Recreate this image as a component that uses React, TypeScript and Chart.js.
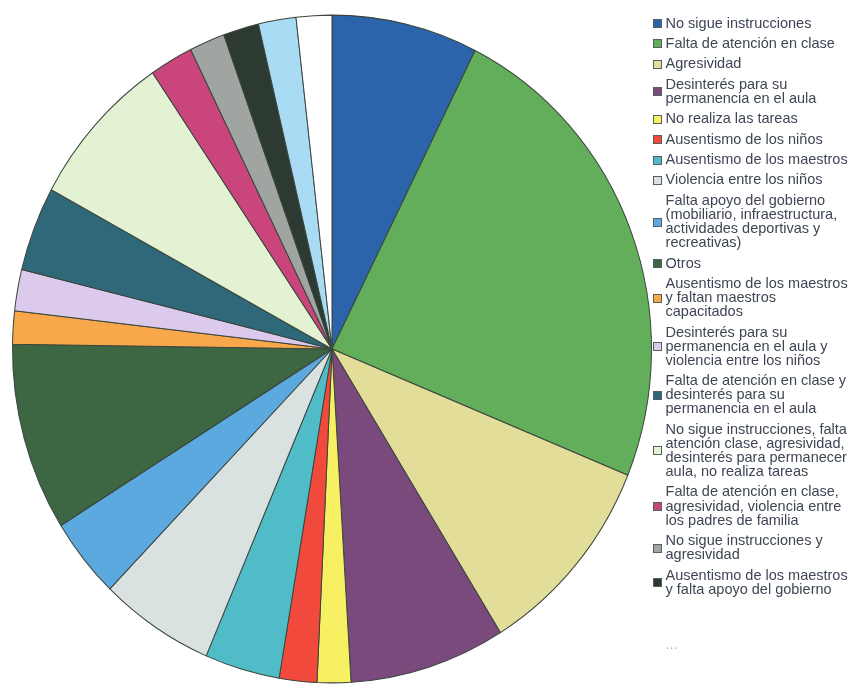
import React, { useEffect, useRef } from 'react';
import { Chart, registerables } from 'chart.js';

Chart.register(...registerables);

// ---- data ----
const categories: string[][] = [
  ['No sigue instrucciones'],
  ['Falta de atención en clase'],
  ['Agresividad'],
  ['Desinterés para su', 'permanencia en el aula'],
  ['No realiza las tareas'],
  ['Ausentismo de los niños'],
  ['Ausentismo de los maestros'],
  ['Violencia entre los niños'],
  ['Falta apoyo del gobierno', '(mobiliario, infraestructura,', 'actividades deportivas y', 'recreativas)'],
  ['Otros'],
  ['Ausentismo de los maestros', 'y faltan maestros', 'capacitados'],
  ['Desinterés para su', 'permanencia en el aula y', 'violencia entre los niños'],
  ['Falta de atención en clase y', 'desinterés para su', 'permanencia en el aula'],
  ['No sigue instrucciones, falta', 'atención clase, agresividad,', 'desinterés para permanecer', 'aula, no realiza tareas'],
  ['Falta de atención en clase,', 'agresividad, violencia entre', 'los padres de familia'],
  ['No sigue instrucciones y', 'agresividad'],
  ['Ausentismo de los maestros', 'y falta apoyo del gobierno'],
  ['', ''],
  ['...'],
];

const values: number[] = [
  7.4, 23.8, 10.0, 7.9, 1.7, 1.9, 3.8, 5.8, 3.9, 9.1,
  1.6, 2.0, 4.1, 7.6, 2.2, 1.8, 1.8, 1.9, 1.8,
];

const colors: string[] = [
  '#2b64ab', '#63ae5b', '#e3dd9a', '#7a4a7c', '#f7f062', '#f1493b', '#50bcc8',
  '#d9e1e1', '#5ca9e0', '#3d6642', '#f8a74b', '#dccaec', '#2f6979', '#e2f2d2',
  '#c9457b', '#a1a5a1', '#2c3a31', '#a9dcf4', '#ffffff',
];

const textColors: string[] = categories.map((_, i) =>
  i === 17 ? 'rgba(0,0,0,0)' : i === 18 ? '#b8b8b8' : '#3e4654'
);

// ---- style ----
const FONT_FAMILY = "'Liberation Sans', Arial, sans-serif";
const FONT_SIZE = 14.5;
const LINE_H = 14.1;
const ITEM_PAD = 6.3;
const STRETCH = 1.045;
const W = 861;
const H = 688;

export default function App() {
  const ref = useRef<HTMLCanvasElement>(null);

  useEffect(() => {
    if (!ref.current) return;

    // measure the widest legend line so the legend starts where the pie ends
    const mc = document.createElement('canvas').getContext('2d')!;
    mc.font = `normal ${FONT_SIZE}px ${FONT_FAMILY}`;
    let maxText = 0;
    categories.forEach((lines) => lines.forEach((l) => { maxText = Math.max(maxText, mc.measureText(l).width); }));
    const legendWidth = ITEM_PAD + FONT_SIZE / 2 + maxText + 10;
    const padLeft = 12;
    const legendLeft = 652;
    const padRight = Math.max(0, W - legendLeft - legendWidth);

    const ellipse = {
      id: 'ellipse',
      beforeDatasetsDraw(chart: any) {
        const { ctx, chartArea: a } = chart;
        const cx = (a.left + a.right) / 2;
        const cy = (a.top + a.bottom) / 2;
        ctx.save();
        ctx.translate(cx, cy);
        ctx.scale(1, STRETCH);
        ctx.translate(-cx, -cy);
      },
      afterDatasetsDraw(chart: any) {
        chart.ctx.restore();
      },
    };

    const legendBoxes = {
      id: 'legendBoxes',
      afterDraw(chart: any) {
        const lg = chart.legend;
        if (!lg || !lg.legendHitBoxes) return;
        const ctx = chart.ctx;
        ctx.save();
        lg.legendHitBoxes.forEach((hb: any, i: number) => {
          if (i >= 17) return;
          const n = categories[i].length;
          const cy = hb.top + FONT_SIZE / 2 + ((n - 1) * LINE_H) / 2;
          const x = Math.round(hb.left + FONT_SIZE / 2 - 13);
          const y = Math.round(cy - 4.5);
          ctx.fillStyle = colors[i];
          ctx.fillRect(x, y, 9, 9);
          ctx.strokeStyle = '#55605c';
          ctx.lineWidth = 1;
          ctx.strokeRect(x + 0.5, y + 0.5, 8, 8);
        });
        ctx.restore();
      },
    };

    const chart = new Chart(ref.current, {
      type: 'pie',
      data: {
        labels: categories as any,
        datasets: [
          {
            data: values,
            backgroundColor: colors,
            borderColor: '#3a463d',
            borderWidth: 1,
          },
        ],
      },
      options: {
        animation: false,
        responsive: true,
        maintainAspectRatio: false,
        layout: { padding: { left: padLeft, top: 10, right: padRight, bottom: 0 } },
        plugins: {
          tooltip: { enabled: false },
          legend: {
            position: 'right',
            align: 'start',
            labels: {
              boxWidth: 0,
              boxHeight: 0,
              padding: ITEM_PAD,
              color: '#3e4654',
              font: { family: FONT_FAMILY, size: FONT_SIZE, lineHeight: LINE_H / FONT_SIZE },
              generateLabels: () =>
                categories.map((text, i) => ({
                  text: text as any,
                  fillStyle: colors[i],
                  strokeStyle: colors[i],
                  fontColor: textColors[i],
                  lineWidth: 0,
                  hidden: false,
                  index: i,
                  textAlign: 'left',
                })) as any,
            },
          },
        },
      },
      plugins: [ellipse, legendBoxes],
    });

    return () => chart.destroy();
  }, []);

  return (
    <div style={{ position: 'absolute', left: 0, top: 0, width: W, height: H, background: '#ffffff' }}>
      <canvas ref={ref} />
    </div>
  );
}
